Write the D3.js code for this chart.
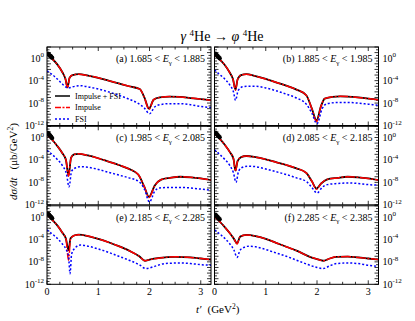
<!DOCTYPE html>
<html>
<head>
<meta charset="utf-8">
<script src="https://cdn.jsdelivr.net/npm/d3@7"></script>
<style>
body { margin: 0; background: #fff; }
svg { font-family: "Liberation Serif", "DejaVu Serif", serif; }
</style>
</head>
<body>
<svg id="chart" width="415" height="321"></svg>
<script>
// panel captions
const panelIds = ["a", "b", "c", "d", "e", "f"]
const eLow = ["1.685", "1.885", "1.985", "2.085", "2.185", "2.285"]
const eHigh = ["1.885", "1.985", "2.085", "2.185", "2.285", "2.385"]
const xTicks = [0, 1, 2, 3]
const yTickExp = [0, -4, -8, -12]

// curves: t' (GeV^2) and log10(dsigma/dt)
const tA = [0, 0.1, 0.2, 0.3, 0.36, 0.40, 0.44, 0.5, 0.62, 0.8, 1.0, 1.2, 1.4, 1.6, 1.81, 1.9, 1.99, 2.08, 2.2, 2.4, 2.6, 2.8, 3.0, 3.2]
const totA = [0.65, -0.1, -1.1, -2.5, -3.7, -5.2, -3.5, -3.0, -2.85, -3.1, -3.5, -4.0, -4.5, -5.0, -5.5, -7.0, -9.0, -7.4, -7.0, -6.85, -6.9, -7.1, -7.3, -7.5]
const impA = [0.65, -0.1, -1.1, -2.5, -3.7, -5.3, -3.5, -3.0, -2.85, -3.1, -3.5, -4.0, -4.5, -5.0, -5.5, -7.0, -9.1, -7.4, -7.0, -6.85, -6.9, -7.1, -7.3, -7.5]
const tFsiA = [0, 0.1, 0.2, 0.3, 0.38, 0.42, 0.5, 0.65, 0.8, 1.0, 1.2, 1.4, 1.6, 1.75, 1.9, 2.0, 2.1, 2.2, 2.4, 2.6, 2.8, 3.0, 3.2]
const fsiA = [-2.25, -2.9, -3.7, -4.6, -5.2, -5.3, -5.1, -4.9, -5.1, -5.5, -6.0, -6.6, -7.3, -7.9, -8.9, -9.9, -8.7, -8.3, -8.1, -8.1, -8.3, -8.6, -8.8]

const tB = [0, 0.1, 0.2, 0.3, 0.36, 0.41, 0.45, 0.52, 0.62, 0.8, 1.0, 1.2, 1.4, 1.6, 1.79, 1.9, 1.99, 2.08, 2.15, 2.3, 2.45, 2.6, 2.8, 3.0, 3.2]
const totB = [0.6, -0.2, -1.2, -2.6, -3.7, -5.6, -3.8, -3.0, -2.85, -3.2, -3.7, -4.3, -4.9, -5.6, -6.6, -9.0, -11.1, -8.5, -7.2, -6.9, -6.8, -6.85, -7.0, -7.2, -7.4]
const impB = [0.6, -0.2, -1.2, -2.6, -3.7, -5.7, -3.8, -3.0, -2.85, -3.2, -3.7, -4.3, -4.9, -5.6, -6.6, -9.0, -11.3, -8.5, -7.2, -6.9, -6.8, -6.85, -7.0, -7.2, -7.4]
const tFsiB = [0, 0.1, 0.2, 0.3, 0.37, 0.41, 0.46, 0.55, 0.65, 0.8, 1.0, 1.2, 1.4, 1.6, 1.8, 1.9, 2.0, 2.1, 2.2, 2.4, 2.6, 2.8, 3.0, 3.2]
const fsiB = [-2.1, -2.9, -3.7, -4.8, -6.0, -7.5, -5.8, -5.1, -5.0, -5.0, -5.3, -5.8, -6.4, -7.1, -8.3, -9.8, -11.7, -9.0, -8.1, -7.9, -7.9, -8.0, -8.2, -8.4]

const tC = [0, 0.1, 0.2, 0.3, 0.37, 0.42, 0.47, 0.53, 0.61, 0.8, 1.0, 1.2, 1.4, 1.6, 1.78, 1.9, 1.99, 2.1, 2.23, 2.4, 2.6, 2.8, 3.0, 3.2]
const totC = [0.5, -0.4, -1.5, -2.8, -4.0, -6.8, -3.6, -3.0, -2.9, -3.2, -3.7, -4.3, -4.9, -5.6, -6.6, -8.8, -10.6, -8.6, -7.5, -7.2, -7.0, -7.1, -7.3, -7.6]
const impC = [0.5, -0.4, -1.5, -2.8, -4.0, -6.9, -3.6, -3.0, -2.9, -3.2, -3.7, -4.3, -4.9, -5.6, -6.6, -8.8, -10.7, -8.6, -7.5, -7.2, -7.0, -7.1, -7.3, -7.6]
const tFsiC = [0, 0.1, 0.2, 0.3, 0.38, 0.43, 0.48, 0.56, 0.65, 0.8, 1.0, 1.2, 1.4, 1.6, 1.8, 1.9, 2.0, 2.1, 2.2, 2.4, 2.6, 2.8, 3.0, 3.2]
const fsiC = [-2.3, -3.0, -3.9, -5.0, -6.5, -8.8, -6.0, -5.4, -5.2, -5.3, -5.7, -6.2, -6.7, -7.2, -7.9, -9.2, -11.5, -9.6, -9.0, -8.9, -8.9, -9.0, -9.2, -9.4]

const tD = [0, 0.1, 0.2, 0.3, 0.37, 0.41, 0.45, 0.52, 0.62, 0.8, 1.0, 1.2, 1.4, 1.6, 1.79, 1.9, 1.99, 2.08, 2.19, 2.4, 2.6, 2.8, 3.0, 3.2]
const totD = [0.7, -0.2, -1.3, -2.6, -3.8, -5.9, -4.2, -3.5, -3.3, -3.5, -3.9, -4.4, -4.9, -5.5, -6.3, -7.8, -9.1, -8.2, -7.5, -7.2, -7.0, -7.1, -7.3, -7.6]
const impD = [0.7, -0.2, -1.3, -2.6, -3.8, -6.0, -4.2, -3.5, -3.3, -3.5, -3.9, -4.4, -4.9, -5.5, -6.3, -7.8, -9.2, -8.2, -7.5, -7.2, -7.0, -7.1, -7.3, -7.6]
const tFsiD = [0, 0.1, 0.2, 0.3, 0.37, 0.42, 0.47, 0.55, 0.65, 0.8, 1.0, 1.2, 1.4, 1.6, 1.8, 1.9, 2.0, 2.1, 2.2, 2.4, 2.6, 2.8, 3.0, 3.2]
const fsiD = [-2.2, -3.0, -3.9, -5.0, -6.3, -8.0, -6.0, -5.3, -5.1, -5.2, -5.6, -6.1, -6.6, -7.2, -7.9, -8.9, -9.9, -8.9, -8.4, -8.2, -8.1, -8.2, -8.4, -8.5]

const tE = [0, 0.1, 0.2, 0.3, 0.37, 0.42, 0.46, 0.53, 0.62, 0.8, 1.0, 1.2, 1.4, 1.6, 1.8, 1.91, 2.0, 2.2, 2.5, 2.8, 3.0, 3.2]
const totE = [0.4, -0.5, -1.5, -2.8, -3.9, -5.9, -3.8, -3.3, -3.15, -3.4, -3.9, -4.5, -5.2, -6.0, -7.0, -7.8, -7.6, -7.3, -7.1, -7.2, -7.4, -7.6]
const impE = [0.4, -0.5, -1.5, -2.8, -3.9, -7.7, -3.9, -3.3, -3.15, -3.4, -3.9, -4.5, -5.2, -6.0, -7.0, -7.8, -7.6, -7.3, -7.1, -7.2, -7.4, -7.6]
const tFsiE = [0, 0.1, 0.2, 0.3, 0.38, 0.42, 0.45, 0.48, 0.56, 0.65, 0.8, 1.0, 1.2, 1.4, 1.6, 1.8, 1.93, 2.1, 2.3, 2.6, 2.8, 3.0, 3.2]
const fsiE = [-2.3, -3.0, -3.8, -4.8, -5.9, -7.0, -10.1, -6.6, -5.4, -5.0, -5.2, -5.7, -6.3, -7.0, -7.7, -8.5, -9.2, -8.8, -8.3, -8.2, -8.3, -8.5, -8.6]

const tF = [0, 0.1, 0.2, 0.3, 0.38, 0.44, 0.5, 0.62, 0.8, 1.0, 1.2, 1.4, 1.6, 1.86, 2.0, 2.12, 2.25, 2.38, 2.6, 2.8, 3.0, 3.2]
const totF = [0.1, -0.8, -1.8, -2.9, -3.9, -4.7, -3.5, -3.2, -3.4, -3.9, -4.6, -5.3, -6.0, -7.1, -7.5, -7.8, -7.4, -7.1, -7.05, -7.2, -7.4, -7.6]
const impF = [0.1, -0.8, -1.8, -2.9, -3.9, -4.8, -3.5, -3.2, -3.4, -3.9, -4.6, -5.3, -6.0, -7.1, -7.5, -7.8, -7.4, -7.1, -7.05, -7.2, -7.4, -7.6]
const tFsiF = [0, 0.1, 0.2, 0.3, 0.38, 0.44, 0.5, 0.58, 0.67, 0.8, 1.0, 1.2, 1.4, 1.6, 1.86, 2.0, 2.12, 2.25, 2.38, 2.6, 2.8, 3.0, 3.2]
const fsiF = [-2.3, -3.0, -3.8, -4.8, -5.9, -7.2, -5.9, -5.4, -5.2, -5.3, -5.8, -6.4, -7.0, -7.7, -8.6, -9.0, -9.2, -8.7, -8.3, -8.2, -8.3, -8.6, -8.8]

// measured points near t'=0
const ptsT = [0.02, 0.04, 0.06, 0.08, 0.10]
const ptsA = [0.8, 0.6, 0.45, 0.3, 0.1]
const ptsB = [0.8, 0.6, 0.4, 0.2, 0.0]
const ptsC = [0.8, 0.55, 0.35, 0.15, -0.1]
const ptsD = [0.85, 0.65, 0.45, 0.25, 0.05]
const ptsE = [0.6, 0.4, 0.2, 0.0, -0.2]
const ptsF = [0.4, 0.2, 0.0, -0.2, -0.4]

const panels = [
    {t: tA, tot: totA, imp: impA, tf: tFsiA, fsi: fsiA, pts: ptsA},
    {t: tB, tot: totB, imp: impB, tf: tFsiB, fsi: fsiB, pts: ptsB},
    {t: tC, tot: totC, imp: impC, tf: tFsiC, fsi: fsiC, pts: ptsC},
    {t: tD, tot: totD, imp: impD, tf: tFsiD, fsi: fsiD, pts: ptsD},
    {t: tE, tot: totE, imp: impE, tf: tFsiE, fsi: fsiE, pts: ptsE},
    {t: tF, tot: totF, imp: impF, tf: tFsiF, fsi: fsiF, pts: ptsF}
]

const svg = d3.select("#chart")
const colX = [47, 214.5]
const rowY = [47, 126.3, 205.8]
const pw = 164, ph = 78.5

function pairs(ts, ls) {
    return ts.map((t, i) => [t, Math.pow(10, ls[i])])
}

panels.forEach(function(p, k) {
    let col = k % 2, row = Math.floor(k / 2)
    let x0 = colX[col], y0 = rowY[row]
    let x = d3.scaleLinear().domain([0, 3.2]).range([x0, x0 + pw])
    let y = d3.scaleLog().domain([1e-12, 1e2]).range([y0 + ph, y0])

    svg.append("clipPath").attr("id", "clip" + k)
        .append("rect").attr("x", x0).attr("y", y0).attr("width", pw).attr("height", ph)

    // ticks
    let gt = svg.append("g").attr("stroke", "#000").attr("stroke-width", 0.8)
    d3.range(0, 3.21, 0.25).forEach(function(v) {
        let len = Math.abs(v - Math.round(v)) < 1e-6 ? 4 : 2.5
        gt.append("line").attr("x1", x(v)).attr("x2", x(v)).attr("y1", y0 + ph).attr("y2", y0 + ph - len)
        gt.append("line").attr("x1", x(v)).attr("x2", x(v)).attr("y1", y0).attr("y2", y0 + len)
    })
    d3.range(-12, 2.01, 0.5).forEach(function(e) {
        let len = Number.isInteger(e) ? 4 : 2.5
        let yy = y(Math.pow(10, e))
        gt.append("line").attr("x1", x0).attr("x2", x0 + len).attr("y1", yy).attr("y2", yy)
        gt.append("line").attr("x1", x0 + pw).attr("x2", x0 + pw - len).attr("y1", yy).attr("y2", yy)
    })

    let line = d3.line().x(d => x(d[0])).y(d => y(d[1])).curve(d3.curveMonotoneX)
    let gc = svg.append("g").attr("clip-path", "url(#clip" + k + ")")
    gc.append("path").attr("d", line(pairs(p.t, p.tot)))
        .attr("fill", "none").attr("stroke", "#000").attr("stroke-width", 1.8)
    gc.append("path").attr("d", line(pairs(p.t, p.imp)))
        .attr("fill", "none").attr("stroke", "#ff0000").attr("stroke-width", 1.5)
        .attr("stroke-dasharray", "10,1.5,2,1.5")
    gc.append("path").attr("d", line(pairs(p.tf, p.fsi)))
        .attr("fill", "none").attr("stroke", "#0000ff").attr("stroke-width", 1.5)
        .attr("stroke-dasharray", "2,2")
    gc.selectAll("circle").data(pairs(ptsT, p.pts)).join("circle")
        .attr("cx", d => x(d[0])).attr("cy", d => y(d[1])).attr("r", 2.2).attr("fill", "#000")

    svg.append("rect").attr("x", x0).attr("y", y0).attr("width", pw).attr("height", ph)
        .attr("fill", "none").attr("stroke", "#000").attr("stroke-width", 1)

    // y tick labels
    yTickExp.forEach(function(e) {
        let yy = y(Math.pow(10, e)) + 3.5
        let tx = svg.append("text").attr("y", yy).attr("font-size", 10)
        if (col === 0) tx.attr("x", x0 - 3).attr("text-anchor", "end")
        else tx.attr("x", x0 + pw + 4).attr("text-anchor", "start")
        tx.append("tspan").text("10")
        tx.append("tspan").attr("dy", -4.5).attr("font-size", 7).text(e)
    })

    // x tick labels on bottom row
    if (row === 2) {
        xTicks.forEach(function(v) {
            svg.append("text").attr("x", x(v)).attr("y", y0 + ph + 11)
                .attr("text-anchor", "middle").attr("font-size", 10).text(v)
        })
    }

    // caption
    let cap = svg.append("text").attr("x", x0 + pw - 6).attr("y", y0 + 15)
        .attr("text-anchor", "end").attr("font-size", 10)
    cap.append("tspan").text("(" + panelIds[k] + ") " + eLow[k] + " < ")
    cap.append("tspan").attr("font-style", "italic").text("E")
    cap.append("tspan").attr("dy", 2.5).attr("font-size", 7).text("γ")
    cap.append("tspan").attr("dy", -2.5).text(" < " + eHigh[k])

    if (k === 0) {
        let names = ["Impulse + FSI", "Impulse", "FSI"]
        let colors = ["#000", "#ff0000", "#0000ff"]
        let dashes = [null, "6,1.5,2,1.5", "2,2"]
        names.forEach(function(n, i) {
            let ly = y0 + 49 + i * 11.5
            svg.append("line").attr("x1", x0 + 8).attr("x2", x0 + 23).attr("y1", ly).attr("y2", ly)
                .attr("stroke", colors[i]).attr("stroke-width", 1.5).attr("stroke-dasharray", dashes[i])
            svg.append("text").attr("x", x0 + 28).attr("y", ly + 2.5).attr("font-size", 8).text(n)
        })
    }
})

// title
let title = svg.append("text").attr("x", 222).attr("y", 41).attr("text-anchor", "middle").attr("font-size", 14)
title.append("tspan").attr("font-style", "italic").text("γ ")
title.append("tspan").attr("dy", -5).attr("font-size", 9).text("4")
title.append("tspan").attr("dy", 5).text("He → ")
title.append("tspan").attr("font-style", "italic").text("φ ")
title.append("tspan").attr("dy", -5).attr("font-size", 9).text("4")
title.append("tspan").attr("dy", 5).text("He")

// axis titles
let xt = svg.append("text").attr("x", 196).attr("y", 313).attr("font-size", 11)
xt.append("tspan").attr("font-style", "italic").text("t′")
xt.append("tspan").attr("dx", 6).text("(GeV")
xt.append("tspan").attr("dy", -4).attr("font-size", 7.5).text("2")
xt.append("tspan").attr("dy", 4).text(")")

let yt = svg.append("text").attr("transform", "translate(17,200) rotate(-90)").attr("font-size", 11)
yt.append("tspan").attr("font-style", "italic").text("dσ/dt")
yt.append("tspan").attr("dx", 8).text("(μb/GeV")
yt.append("tspan").attr("dy", -4).attr("font-size", 7.5).text("2")
yt.append("tspan").attr("dy", 4).text(")")
</script>
</body>
</html>
